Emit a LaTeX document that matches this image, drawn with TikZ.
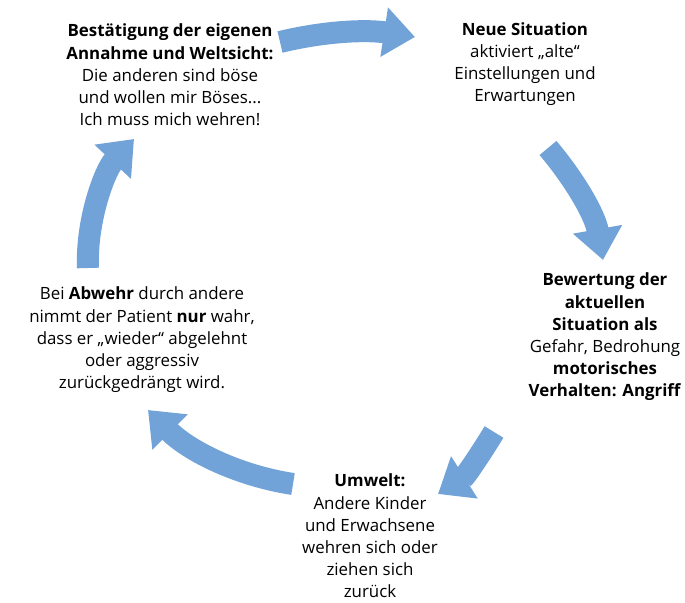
\documentclass[tikz,border=0pt]{standalone}
\usepackage{fontspec}
\setmainfont{Open Sans}
\usetikzlibrary{arrows.meta}
\definecolor{cyclearrow}{RGB}{114,163,216}
\begin{document}
\begin{tikzpicture}[x=0.025cm,y=-0.025cm]
      \tikzstyle{txt}=[align=center,font=\fontsize{12}{15.8}\selectfont,inner sep=0pt]
      \tikzstyle{cyc}=[line width=0.55cm,draw=cyclearrow,
        -{Triangle[length=0.78cm 0 0,width=1.2cm 0 0]}]
      \useasboundingbox (0,0) rectangle (685,603);

      \node[txt] (bestaet) at (170,75) {\textbf{Bestätigung der eigenen}\\\textbf{Annahme und Weltsicht:}\\Die anderen sind böse\\und wollen mir Böses...\\Ich muss mich wehren!};
      \node[txt] (neue) at (525,64) {\textbf{Neue Situation}\\aktiviert „alte“\\Einstellungen und\\Erwartungen};
      \node[txt] (bewert) at (605,337) {\textbf{Bewertung der}\\\textbf{aktuellen}\\\textbf{Situation als}\\Gefahr, Bedrohung\\\textbf{motorisches}\\\textbf{Verhalten: Angriff}};
      \node[txt] (umwelt) at (370,536) {\textbf{Umwelt:}\\Andere Kinder\\und Erwachsene\\wehren sich oder\\ziehen sich\\zurück};
      \node[txt] (abwehr) at (142,340) {Bei \textbf{Abwehr} durch andere\\nimmt der Patient \textbf{nur} wahr,\\dass er „wieder“ abgelehnt\\oder aggressiv\\zurückgedrängt wird.};

      \coordinate (a1) at (280,42);  \coordinate (b1) at (415,37);
      \coordinate (a2) at (548,148); \coordinate (b2) at (603,260);
      \coordinate (a3) at (494,432); \coordinate (b3) at (438,494);
      \coordinate (a4) at (293,484); \coordinate (b4) at (148,410);
      \coordinate (a5) at (88,268);  \coordinate (b5) at (134,139);

      \draw[cyc] (a1) .. controls (330,30) and (370,30) .. (b1);
      \draw[cyc] (a2) .. controls (575,180) and (595,215) .. (b2);
      \draw[cyc] (a3) .. controls (480,455) and (465,477) .. (b3);
      \draw[cyc] (a4) .. controls (240,476) and (190,452) .. (b4);
      \draw[cyc] (a5) .. controls (86,220) and (105,170) .. (b5);
    \end{tikzpicture}
\end{document}
